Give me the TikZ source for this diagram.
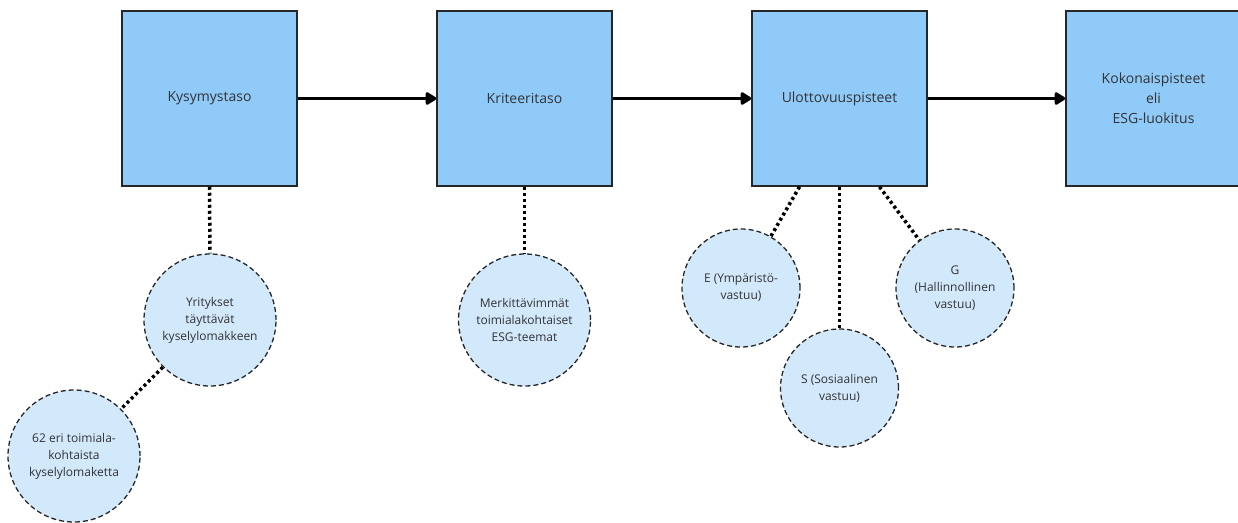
\documentclass[tikz,border=0pt]{standalone}
\usepackage{fontspec}
\setmainfont{Open Sans}
\usetikzlibrary{arrows.meta, positioning}
\definecolor{boxblue}{HTML}{90CAF9}
\definecolor{bubbleblue}{HTML}{D2E8FB}
\definecolor{textgray}{HTML}{333333}

\begin{document}
\begin{tikzpicture}[x=1pt, y=-1pt,
	font=\fontsize{12}{17}\selectfont,
	level/.style={rectangle, draw=black!85, line width=1.5pt, fill=boxblue, minimum size=175pt, align=center, text=textgray, font=\fontsize{14}{20}\selectfont},
	bubble/.style={circle, draw=black!85, dash pattern=on 5pt off 3pt, line width=1.3pt, fill=bubbleblue, minimum size=132pt, inner sep=1pt, align=center, text=textgray},
	dim/.style={bubble, minimum size=118pt},
	flow/.style={-{Triangle[length=12pt, width=14pt, round]}, line width=3pt},
	link/.style={line width=3.5pt, dash pattern=on 3pt off 3pt}]
	%\draw[help lines] (0,0) grid[step=50] (1238,522);
	\useasboundingbox (0,0) rectangle (1238,522);

	\node (ques) [level] at (209.5, 98.5) {Kysymystaso};
	\node (crit) [level] at (524.5, 98.5) {Kriteeritaso};
	\node (dims) [level] at (839.5, 98.5) {Ulottovuuspisteet};
	\node (total) [level] at (1153.5, 98.5) {Kokonaispisteet\\eli\\ESG-luokitus};

	\node (firms) [bubble] at (210, 320) {Yritykset\\täyttävät\\kyselylomakkeen};
	\node (forms) [bubble] at (74, 456) {62 eri toimiala-\\kohtaista\\kyselylomaketta};
	\node (themes) [bubble] at (524.5, 320) {Merkittävimmät\\toimialakohtaiset\\ESG-teemat};

	\node (env) [dim] at (741, 288) {E (Ympäristö-\\vastuu)};
	\node (soc) [dim] at (839.5, 388) {S (Sosiaalinen\\vastuu)};
	\node (gov) [dim] at (955, 288) {G\\(Hallinnollinen\\vastuu)};

	\draw [flow] (ques) -- (crit);
	\draw [flow] (crit) -- (dims);
	\draw [flow] (dims) -- (total);

	\draw [link] (ques.south) -- (firms.north);
	\draw [link] (firms) -- (forms);
	\draw [link] (crit.south) -- (themes.north);
	\draw [link] ([xshift=-40pt]dims.south) -- (env);
	\draw [link] (dims.south) -- (soc.north);
	\draw [link] ([xshift=40pt]dims.south) -- (gov);
\end{tikzpicture}
\end{document}
